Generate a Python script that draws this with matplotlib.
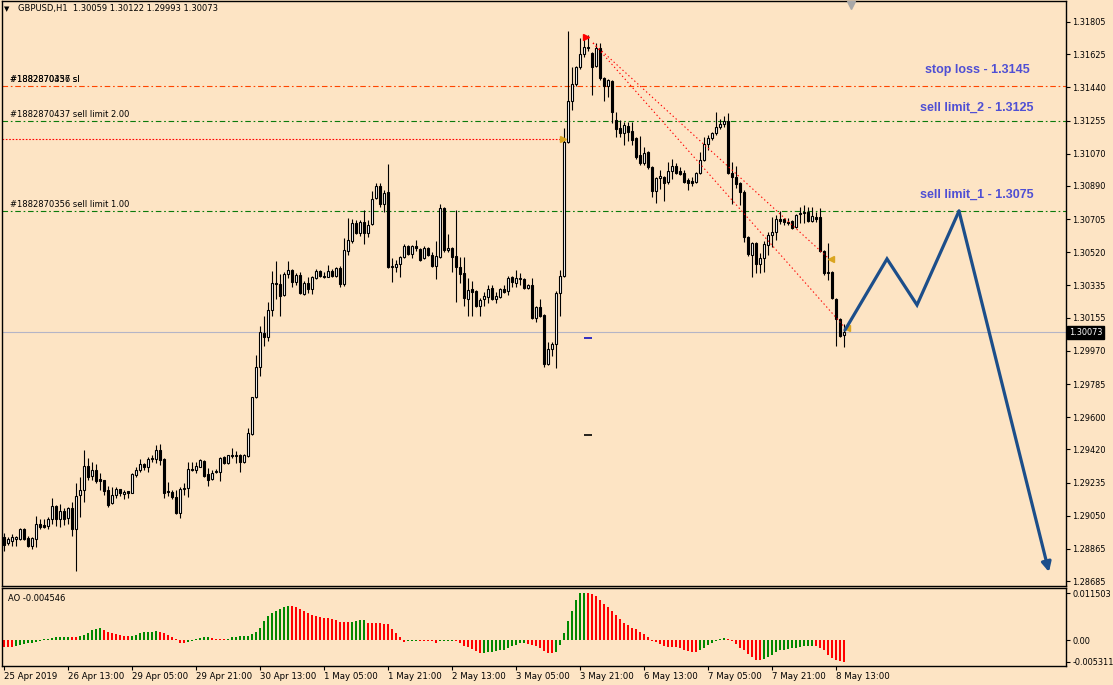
import numpy as np
import matplotlib.pyplot as plt

# GBPUSD H1, one value per bar (25 Apr 2019 21:00 .. 8 May 15:00)
opens = [
    1.28929, 1.28899, 1.28910, 1.28923, 1.28923, 1.28974, 1.28927, 1.28883, 1.28923, 1.29002,
    1.28996, 1.28992, 1.29030, 1.29104, 1.29033, 1.29076, 1.29035, 1.29091, 1.28974, 1.29163,
    1.29191, 1.29325, 1.29269, 1.29303, 1.29255, 1.29247, 1.29193, 1.29119, 1.29163, 1.29197,
    1.29171, 1.29188, 1.29175, 1.29275, 1.29305, 1.29336, 1.29320, 1.29372, 1.29367, 1.29417,
    1.29367, 1.29187, 1.29182, 1.29154, 1.29065, 1.29199, 1.29204, 1.29311, 1.29305, 1.29322,
    1.29355, 1.29283, 1.29255, 1.29294, 1.29294, 1.29378, 1.29344, 1.29389, 1.29383, 1.29389,
    1.29350, 1.29383, 1.29506, 1.29712, 1.29880, 1.30069, 1.30047, 1.30198, 1.30348, 1.30343,
    1.30281, 1.30399, 1.30421, 1.30354, 1.30393, 1.30287, 1.30348, 1.30315, 1.30376, 1.30415,
    1.30388, 1.30382, 1.30415, 1.30388, 1.30432, 1.30343, 1.30527, 1.30583, 1.30684, 1.30628,
    1.30689, 1.30628, 1.30678, 1.30823, 1.30890, 1.30790, 1.30856, 1.30438, 1.30438, 1.30455,
    1.30494, 1.30555, 1.30511, 1.30555, 1.30538, 1.30488, 1.30544, 1.30505, 1.30443, 1.30494,
    1.30767, 1.30533, 1.30544, 1.30500, 1.30438, 1.30404, 1.30259, 1.30315, 1.30304, 1.30220,
    1.30259, 1.30270, 1.30320, 1.30259, 1.30270, 1.30315, 1.30304, 1.30382, 1.30348, 1.30371,
    1.30371, 1.30320, 1.30337, 1.30153, 1.30214, 1.30170, 1.29897, 1.29980, 1.30008, 1.30292,
    1.30388, 1.31135, 1.31364, 1.31459, 1.31554, 1.31627, 1.31666, 1.31632, 1.31560, 1.31660,
    1.31493, 1.31448, 1.31476, 1.31258, 1.31214, 1.31186, 1.31225, 1.31197, 1.31158, 1.31063,
    1.31019, 1.31080, 1.30996, 1.30862, 1.30935, 1.30940, 1.30912, 1.30974, 1.31002, 1.30974,
    1.30963, 1.30923, 1.30918, 1.30912, 1.30963, 1.31035, 1.31125, 1.31158, 1.31186, 1.31219,
    1.31236, 1.31253, 1.30963, 1.30940, 1.30907, 1.30856, 1.30605, 1.30505, 1.30572, 1.30455,
    1.30488, 1.30561, 1.30616, 1.30633, 1.30706, 1.30706, 1.30689, 1.30695, 1.30661, 1.30733,
    1.30739, 1.30745, 1.30695, 1.30717, 1.30717, 1.30527, 1.30404, 1.30410, 1.30259, 1.30147,
    1.30059,
]
highs = [
    1.28951, 1.28933, 1.28948, 1.28937, 1.28983, 1.28979, 1.28937, 1.28933, 1.29048, 1.29030,
    1.29033, 1.29041, 1.29147, 1.29109, 1.29115, 1.29095, 1.29100, 1.29124, 1.29230, 1.29264,
    1.29416, 1.29370, 1.29351, 1.29336, 1.29286, 1.29249, 1.29216, 1.29212, 1.29208, 1.29201,
    1.29193, 1.29188, 1.29290, 1.29323, 1.29364, 1.29346, 1.29375, 1.29389, 1.29444, 1.29450,
    1.29372, 1.29238, 1.29193, 1.29193, 1.29210, 1.29232, 1.29350, 1.29350, 1.29350, 1.29367,
    1.29361, 1.29316, 1.29305, 1.29311, 1.29378, 1.29383, 1.29389, 1.29428, 1.29411, 1.29394,
    1.29394, 1.29539, 1.29712, 1.29947, 1.30109, 1.30164, 1.30243, 1.30415, 1.30471, 1.30399,
    1.30410, 1.30471, 1.30426, 1.30404, 1.30410, 1.30360, 1.30382, 1.30388, 1.30426, 1.30421,
    1.30410, 1.30449, 1.30426, 1.30438, 1.30443, 1.30600, 1.30712, 1.30706, 1.30700, 1.30700,
    1.30756, 1.30700, 1.30862, 1.30907, 1.30907, 1.30867, 1.31013, 1.30488, 1.30477, 1.30500,
    1.30566, 1.30560, 1.30560, 1.30588, 1.30544, 1.30555, 1.30550, 1.30522, 1.30583, 1.30790,
    1.30773, 1.30622, 1.30550, 1.30756, 1.30494, 1.30494, 1.30376, 1.30360, 1.30309, 1.30265,
    1.30298, 1.30337, 1.30337, 1.30298, 1.30320, 1.30337, 1.30388, 1.30388, 1.30421, 1.30404,
    1.30376, 1.30343, 1.30376, 1.30220, 1.30259, 1.30175, 1.30019, 1.30019, 1.30304, 1.30421,
    1.31214, 1.31755, 1.31554, 1.31560, 1.31716, 1.31733, 1.31733, 1.31638, 1.31688, 1.31688,
    1.31498, 1.31487, 1.31481, 1.31303, 1.31258, 1.31247, 1.31247, 1.31247, 1.31164, 1.31169,
    1.31108, 1.31085, 1.31002, 1.30940, 1.30979, 1.30946, 1.31024, 1.31041, 1.31019, 1.30996,
    1.30979, 1.30935, 1.30940, 1.30968, 1.31080, 1.31164, 1.31175, 1.31191, 1.31303, 1.31264,
    1.31281, 1.31297, 1.31024, 1.31002, 1.30912, 1.30867, 1.30611, 1.30578, 1.30578, 1.30516,
    1.30583, 1.30633, 1.30717, 1.30728, 1.30750, 1.30712, 1.30712, 1.30700, 1.30733, 1.30773,
    1.30784, 1.30773, 1.30773, 1.30745, 1.30767, 1.30533, 1.30572, 1.30415, 1.30265, 1.30153,
    1.30122,
]
lows = [
    1.28855, 1.28886, 1.28883, 1.28883, 1.28914, 1.28914, 1.28877, 1.28862, 1.28873, 1.28974,
    1.28981, 1.28976, 1.29002, 1.28992, 1.28989, 1.28998, 1.29002, 1.28938, 1.28743, 1.29044,
    1.29128, 1.29249, 1.29249, 1.29234, 1.29193, 1.29165, 1.29100, 1.29115, 1.29147, 1.29160,
    1.29145, 1.29147, 1.29175, 1.29268, 1.29295, 1.29305, 1.29295, 1.29350, 1.29344, 1.29333,
    1.29148, 1.29160, 1.29143, 1.29060, 1.29037, 1.29165, 1.29154, 1.29299, 1.29288, 1.29322,
    1.29266, 1.29216, 1.29249, 1.29288, 1.29244, 1.29339, 1.29339, 1.29372, 1.29344, 1.29294,
    1.29344, 1.29378, 1.29500, 1.29706, 1.29830, 1.29997, 1.30025, 1.30164, 1.30259, 1.30164,
    1.30276, 1.30376, 1.30326, 1.30337, 1.30287, 1.30281, 1.30292, 1.30287, 1.30371, 1.30382,
    1.30376, 1.30382, 1.30382, 1.30382, 1.30326, 1.30332, 1.30505, 1.30572, 1.30622, 1.30611,
    1.30566, 1.30605, 1.30672, 1.30818, 1.30773, 1.30745, 1.30432, 1.30354, 1.30410, 1.30382,
    1.30488, 1.30505, 1.30488, 1.30527, 1.30471, 1.30483, 1.30500, 1.30438, 1.30371, 1.30488,
    1.30522, 1.30522, 1.30410, 1.30243, 1.30348, 1.30220, 1.30164, 1.30164, 1.30214, 1.30164,
    1.30220, 1.30237, 1.30254, 1.30237, 1.30265, 1.30292, 1.30281, 1.30326, 1.30326, 1.30337,
    1.30315, 1.30315, 1.30147, 1.30131, 1.30158, 1.29880, 1.29891, 1.29941, 1.29874, 1.30164,
    1.30382, 1.31130, 1.31314, 1.31448, 1.31543, 1.31610, 1.31643, 1.31398, 1.31554, 1.31481,
    1.31364, 1.31387, 1.31242, 1.31164, 1.31164, 1.31119, 1.31141, 1.31119, 1.31041, 1.31007,
    1.31007, 1.30985, 1.30829, 1.30795, 1.30873, 1.30806, 1.30901, 1.30929, 1.30957, 1.30951,
    1.30907, 1.30867, 1.30890, 1.30907, 1.30957, 1.31030, 1.31091, 1.31146, 1.31175, 1.31208,
    1.31219, 1.30957, 1.30790, 1.30878, 1.30784, 1.30578, 1.30500, 1.30382, 1.30404, 1.30404,
    1.30410, 1.30505, 1.30549, 1.30588, 1.30678, 1.30672, 1.30672, 1.30650, 1.30656, 1.30684,
    1.30684, 1.30689, 1.30689, 1.30689, 1.30522, 1.30393, 1.30365, 1.30259, 1.29997, 1.30047,
    1.29993,
]
closes = [
    1.28886, 1.28918, 1.28929, 1.28931, 1.28976, 1.28922, 1.28883, 1.28925, 1.29002, 1.28989,
    1.28985, 1.29030, 1.29102, 1.29030, 1.29076, 1.29033, 1.29091, 1.28974, 1.29158, 1.29191,
    1.29325, 1.29268, 1.29303, 1.29245, 1.29245, 1.29189, 1.29111, 1.29165, 1.29197, 1.29175,
    1.29182, 1.29175, 1.29282, 1.29303, 1.29336, 1.29320, 1.29364, 1.29367, 1.29417, 1.29361,
    1.29176, 1.29182, 1.29154, 1.29065, 1.29199, 1.29204, 1.29311, 1.29305, 1.29328, 1.29361,
    1.29272, 1.29249, 1.29288, 1.29299, 1.29372, 1.29344, 1.29389, 1.29383, 1.29389, 1.29350,
    1.29389, 1.29511, 1.29712, 1.29880, 1.30075, 1.30047, 1.30198, 1.30348, 1.30343, 1.30276,
    1.30399, 1.30421, 1.30354, 1.30393, 1.30292, 1.30348, 1.30315, 1.30382, 1.30415, 1.30388,
    1.30382, 1.30415, 1.30388, 1.30432, 1.30343, 1.30533, 1.30588, 1.30684, 1.30628, 1.30689,
    1.30628, 1.30672, 1.30818, 1.30890, 1.30790, 1.30851, 1.30438, 1.30443, 1.30455, 1.30494,
    1.30555, 1.30511, 1.30555, 1.30544, 1.30477, 1.30544, 1.30505, 1.30443, 1.30500, 1.30767,
    1.30533, 1.30544, 1.30494, 1.30438, 1.30399, 1.30265, 1.30309, 1.30298, 1.30220, 1.30254,
    1.30276, 1.30315, 1.30259, 1.30276, 1.30315, 1.30298, 1.30376, 1.30354, 1.30376, 1.30376,
    1.30320, 1.30337, 1.30153, 1.30214, 1.30164, 1.29897, 1.29980, 1.30008, 1.30292, 1.30388,
    1.31135, 1.31364, 1.31459, 1.31554, 1.31627, 1.31666, 1.31660, 1.31554, 1.31660, 1.31493,
    1.31448, 1.31481, 1.31303, 1.31208, 1.31186, 1.31230, 1.31191, 1.31146, 1.31052, 1.31019,
    1.31074, 1.30996, 1.30862, 1.30935, 1.30946, 1.30907, 1.30974, 1.31002, 1.30963, 1.30957,
    1.30912, 1.30907, 1.30907, 1.30963, 1.31035, 1.31125, 1.31158, 1.31186, 1.31219, 1.31236,
    1.31253, 1.30963, 1.30940, 1.30901, 1.30856, 1.30605, 1.30511, 1.30572, 1.30455, 1.30488,
    1.30566, 1.30616, 1.30633, 1.30706, 1.30695, 1.30689, 1.30684, 1.30656, 1.30728, 1.30739,
    1.30745, 1.30695, 1.30723, 1.30706, 1.30527, 1.30404, 1.30410, 1.30265, 1.30147, 1.30053,
    1.30073,
]
# Awesome Oscillator, one value per bar
ao = [
    -0.0016, -0.0016, -0.0016, -0.00144, -0.0012, -0.00096, -0.0008, -0.00064, -0.00048, -0.00024,
    0.0002, 0.00026, 0.0004, 0.00064, 0.0008, 0.00082, 0.00084, 0.00072, 0.00064, 0.00096,
    0.0012, 0.00176, 0.0024, 0.0028, 0.00282, 0.00256, 0.002, 0.00176, 0.00144, 0.0012,
    0.00096, 0.00094, 0.00104, 0.0012, 0.0016, 0.00184, 0.002, 0.00202, 0.00216, 0.00184,
    0.0016, 0.0012, 0.0008, 0.0003, -0.00064, -0.00066, -0.00048, -0.00028, 0.00024, 0.0004,
    0.00064, 0.00066, 0.0004, 0.00032, 0.0003, 0.00028, 0.00036, 0.00064, 0.0008, 0.00096,
    0.00098, 0.001, 0.00144, 0.002, 0.00296, 0.00456, 0.00584, 0.00656, 0.0072, 0.0076,
    0.00816, 0.0084, 0.00836, 0.008, 0.0076, 0.00704, 0.00656, 0.00624, 0.00584, 0.0056,
    0.00544, 0.00542, 0.0052, 0.0048, 0.0044, 0.00438, 0.00432, 0.00448, 0.00464, 0.0048,
    0.00482, 0.00424, 0.00416, 0.00414, 0.00412, 0.004, 0.00398, 0.0028, 0.00176, 0.00064,
    -0.0004, -0.00032, -0.00028, -0.00026, -0.00028, -0.0003, -0.00032, -0.00036, -0.0007, -0.00034,
    -0.0003, -0.00028, -0.00026, -0.00028, -0.0008, -0.00136, -0.00176, -0.00224, -0.0028, -0.0032,
    -0.00318, -0.00296, -0.00294, -0.0028, -0.00256, -0.0024, -0.002, -0.00144, -0.0012, -0.0008,
    -0.00078, -0.00096, -0.0012, -0.00144, -0.002, -0.00264, -0.0032, -0.00322, -0.00304, -0.00128,
    0.00176, 0.0046, 0.0072, 0.00984, 0.01148, 0.011503, 0.0114, 0.01136, 0.0108, 0.00984,
    0.0088, 0.00816, 0.0072, 0.00616, 0.0052, 0.00424, 0.00376, 0.00304, 0.00264, 0.002,
    0.00144, 0.00064, -0.00028, -0.00056, -0.00104, -0.00144, -0.0016, -0.00162, -0.00164, -0.00184,
    -0.0024, -0.0028, -0.00304, -0.00306, -0.0024, -0.002, -0.0012, -0.0008, -0.00028, 0.00032,
    0.0004, 0.00026, -0.00028, -0.00104, -0.00184, -0.00256, -0.00336, -0.00416, -0.0048, -0.00488,
    -0.00456, -0.00424, -0.00368, -0.00304, -0.0024, -0.00238, -0.00216, -0.002, -0.00184, -0.0016,
    -0.00144, -0.00142, -0.0014, -0.00144, -0.002, -0.00256, -0.0036, -0.0044, -0.0048, -0.0051,
    -0.005311,
]

price_ticks = [1.31805, 1.31625, 1.31440, 1.31255, 1.31070, 1.30890, 1.30705, 1.30520, 1.30335,
               1.30155, 1.29970, 1.29785, 1.29600, 1.29420, 1.29235, 1.29050, 1.28865, 1.28685]
date_bars = [0, 16, 32, 48, 64, 80, 96, 112, 128, 144, 160, 176, 192, 208]
date_labels = ["25 Apr 2019", "26 Apr 13:00", "29 Apr 05:00", "29 Apr 21:00", "30 Apr 13:00",
               "1 May 05:00", "1 May 21:00", "2 May 13:00", "3 May 05:00", "3 May 21:00",
               "6 May 13:00", "7 May 05:00", "7 May 21:00", "8 May 13:00"]
ao_ticks = [0.011503, 0.0, -0.005311]
ao_tick_labels = ["0.011503", "0.00", "-0.005311"]

last_price = 1.30073
stop_loss = 1.3145
sell_limit_2 = 1.3125
sell_limit_1 = 1.3075
filled_price, filled_bar = 1.31152, 140
trade_open = (147.25, 1.31688)
trade_closes = [(206.3, 1.30483), (210.3, 1.30098)]
zig_bars = [210.25, 220.75, 228.25, 238.75, 261.25]
zig_prices = [1.30086, 1.30483, 1.30226, 1.30750, 1.28736]

BG = "#fde4c4"
W, H = 1113, 685
plt.rcParams["font.family"] = "DejaVu Sans"
fig = plt.figure(figsize=(W / 100, H / 100), dpi=100, facecolor=BG)
ax = fig.add_axes([2 / W, 1 - 586 / H, 1064 / W, 585 / H], facecolor=BG)
ax2 = fig.add_axes([2 / W, 1 - 666 / H, 1064 / W, 78 / H], facecolor=BG)

x = np.arange(len(opens))
o, h, l, c = (np.array(v) for v in (opens, highs, lows, closes))
up = c >= o

# candles
ax.vlines(x, l, h, color="black", lw=0.8, zorder=3)
ax.bar(x, np.abs(c - o), bottom=np.minimum(o, c), width=0.55,
       color=np.where(up, "white", "black"), edgecolor="black", linewidth=0.8, zorder=4)

xmin, xmax = -0.5, 265.5
ax.set_xlim(xmin, xmax)
ax.set_ylim(1.28658, 1.31922)

# order levels
dashdot = (0, (5, 2.5, 1.5, 2.5))
ax.axhline(stop_loss, color="#ff4500", lw=0.8, ls=dashdot, zorder=2)
ax.axhline(sell_limit_2, color="#0b7a0b", lw=0.8, ls=dashdot, zorder=2)
ax.axhline(sell_limit_1, color="#0b7a0b", lw=0.8, ls=dashdot, zorder=2)
ax.hlines(filled_price, xmin, filled_bar - 0.3, color="red", lw=0.8, ls=(0, (1.5, 1.5)), zorder=2)
ax.plot(filled_bar - 0.3, filled_price, marker=">", color="#daa520", ms=4, zorder=5)
ax.axhline(last_price, color="#b4b4c6", lw=0.8, zorder=1)

# closed trade lines
for cb, cp in trade_closes:
    ax.plot([trade_open[0], cb], [trade_open[1], cp], color="red", lw=0.8,
            ls=(0, (1.2, 2.4)), zorder=5)
    ax.plot(cb + 0.4, cp, marker="<", color="#daa520", ms=5, zorder=6)
ax.plot(trade_open[0] - 1.8, trade_open[1] + 0.00035, marker=">", color="red", ms=5, zorder=6)

ax.plot(145.9, 1.30042, marker="_", color="#1010c0", ms=6, mew=1.2, zorder=5)
ax.plot(145.9, 1.29500, marker="_", color="black", ms=6, mew=1.2, zorder=5)

# projected path
ax.plot(zig_bars[:-1], zig_prices[:-1], color="#1c4e8a", lw=2.3, solid_capstyle="round",
        solid_joinstyle="miter", zorder=7)
ax.annotate("", xy=(zig_bars[-1], zig_prices[-1]), xytext=(zig_bars[-2], zig_prices[-2]),
            arrowprops=dict(arrowstyle="-|>", color="#1c4e8a", lw=2.3, mutation_scale=14,
                            shrinkA=0, shrinkB=0), zorder=7)

# order labels
small = dict(fontsize=6, color="black", ha="left", va="bottom", textcoords="offset points")
ax.annotate("#1882870437 sl", (1.5, stop_loss), xytext=(0, 1.5), **small)
ax.annotate("#1882870356 sl", (1.5, stop_loss), xytext=(0, 1.5), **small)
ax.annotate("#1882870437 sell limit 2.00", (1.5, sell_limit_2), xytext=(0, 1.5), **small)
ax.annotate("#1882870356 sell limit 1.00", (1.5, sell_limit_1), xytext=(0, 1.5), **small)

big = dict(fontsize=9, fontweight="bold", color="#4f4fd4", family="Liberation Sans",
           ha="center", va="center", textcoords="offset points")
ax.annotate("stop loss - 1.3145", (243.25, stop_loss), xytext=(0, 11.5), **big)
ax.annotate("sell limit_2 - 1.3125", (243.25, sell_limit_2), xytext=(0, 9.5), **big)
ax.annotate("sell limit_1 - 1.3075", (243.25, sell_limit_1), xytext=(0, 11.5), **big)

# price scale
ax.yaxis.tick_right()
ax.set_yticks(price_ticks)
ax.set_yticklabels([f"{p:.5f}" for p in price_ticks])
ax.tick_params(axis="y", direction="out", length=3, width=0.8, pad=1.5, labelsize=5.9)
ax.tick_params(axis="x", bottom=False, labelbottom=False)
ax.annotate(f"{last_price:.5f}", xy=(1, last_price), xycoords=("axes fraction", "data"),
            xytext=(2, 0), textcoords="offset points", ha="left", va="center",
            fontsize=5.9, color="white", annotation_clip=False,
            bbox=dict(boxstyle="square,pad=0.2", fc="black", ec="black"))
for s in ax.spines.values():
    s.set_color("black")
    s.set_linewidth(1)

# chart shift marker
ax.plot(211.75, 0.993, marker="v", color="#a8a8a8", ms=6, transform=ax.get_xaxis_transform(),
        clip_on=False, zorder=8)

# header
fig.text(4 / W, 1 - 9 / H, "▼", fontsize=5, va="center", ha="left")
fig.text(18 / W, 1 - 9 / H, "GBPUSD,H1  1.30059 1.30122 1.29993 1.30073", fontsize=6,
         va="center", ha="left")

# AO panel
ao_arr = np.array(ao)
ao_cols = ["#ff0000"] + ["#008800" if ao_arr[i] > ao_arr[i - 1] else "#ff0000"
                         for i in range(1, len(ao_arr))]
ax2.bar(x, ao_arr, width=0.72, color=ao_cols, linewidth=0)
ax2.set_xlim(xmin, xmax)
ax2.set_ylim(-0.00637, 0.01274)
ax2.yaxis.tick_right()
ax2.set_yticks(ao_ticks)
ax2.set_yticklabels(ao_tick_labels)
ax2.tick_params(axis="y", direction="out", length=3, width=0.8, pad=1.5, labelsize=5.9)
ax2.set_xticks(date_bars)
ax2.set_xticklabels(date_labels, ha="left")
ax2.tick_params(axis="x", direction="out", length=3, width=0.8, pad=1.5, labelsize=6.2)
ax2.text(6 / 1064, 0.87, "AO -0.004546", transform=ax2.transAxes, fontsize=6, va="center")
for s in ax2.spines.values():
    s.set_color("black")
    s.set_linewidth(1)

fig.savefig("out.png", dpi=100, facecolor=BG)
